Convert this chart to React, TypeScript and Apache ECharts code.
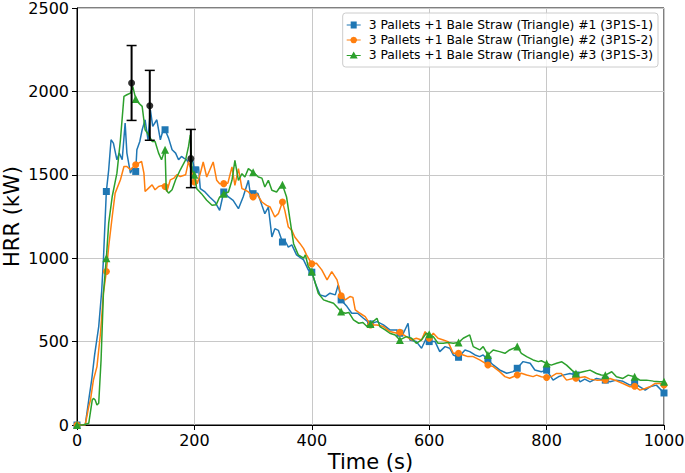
import React, { useEffect, useRef } from "react";
import * as echarts from "echarts";

const seriesNames = [
  "3 Pallets +1 Bale Straw (Triangle) #1 (3P1S-1)",
  "3 Pallets +1 Bale Straw (Triangle) #2 (3P1S-2)",
  "3 Pallets +1 Bale Straw (Triangle) #3 (3P1S-3)",
];
const colors = ["#1f77b4", "#ff7f0e", "#2ca02c"];

const xTicks = [0, 200, 400, 600, 800, 1000];
const yTicks = [0, 500, 1000, 1500, 2000, 2500];

// [time (s), HRR (kW)]
const test1: [number, number][] = [
  [0, 0], [10, 0], [14, 0], [20, 150], [25, 270], [30, 420], [37, 590], [42, 800], [45, 990], [50, 1400],
  [54, 1530], [58, 1710], [62, 1690], [68, 1590], [72, 1630], [77, 1590], [82, 1810], [85, 1630], [91, 1510], [95, 1540],
  [100, 1520], [102, 1650], [107, 1700], [111, 1770], [116, 1830], [121, 1710], [125, 1890], [129, 1790], [136, 1830], [142, 1710],
  [146, 1760], [150, 1770], [156, 1720], [162, 1650], [168, 1630], [173, 1590], [178, 1610], [182, 1600], [187, 1590], [193, 1550],
  [197, 1590], [200, 1530], [204, 1527], [207, 1550], [210, 1417], [218, 1397], [226, 1367], [235, 1337], [243, 1287], [250, 1397],
  [258, 1367], [266, 1347], [275, 1297], [283, 1367], [292, 1467], [296, 1367], [300, 1387], [308, 1390], [315, 1317], [320, 1267],
  [326, 1307], [332, 1127], [337, 1177], [343, 1167], [350, 1097], [355, 1100], [360, 1067], [366, 1080], [374, 1020], [386, 990],
  [394, 930], [400, 916], [406, 850], [414, 780], [423, 770], [431, 790], [440, 780], [445, 840], [450, 750], [460, 710],
  [468, 670], [478, 670], [488, 640], [500, 606], [511, 620], [522, 600], [533, 570], [545, 570], [550, 550], [556, 550],
  [564, 610], [567, 510], [578, 500], [587, 460], [595, 520], [600, 500], [610, 500], [618, 440], [627, 470], [635, 460],
  [641, 420], [650, 406], [661, 450], [669, 440], [678, 420], [686, 410], [692, 420], [700, 390], [709, 360], [720, 330],
  [732, 310], [743, 320], [750, 340], [760, 380], [772, 370], [780, 330], [791, 319], [800, 329], [811, 269], [820, 289],
  [828, 299], [840, 309], [850, 300], [857, 259], [865, 275], [874, 259], [885, 279], [900, 269], [908, 259], [919, 269],
  [930, 262], [942, 239], [950, 249], [959, 229], [968, 209], [976, 229], [987, 239], [1000, 192],
];

const test2: [number, number][] = [
  [0, 0], [10, 0], [14, 0], [20, 110], [23, 150], [28, 270], [34, 350], [40, 550], [45, 790], [50, 920],
  [54, 1070], [60, 1250], [65, 1390], [74, 1470], [80, 1550], [85, 1550], [91, 1530], [95, 1545], [100, 1560], [105, 1570],
  [110, 1580], [114, 1510], [116, 1400], [122, 1420], [128, 1440], [133, 1410], [139, 1430], [144, 1435], [150, 1430], [153, 1400],
  [159, 1470], [165, 1480], [170, 1500], [176, 1490], [185, 1500], [190, 1580], [196, 1510], [200, 1457], [205, 1447], [210, 1507],
  [215, 1577], [221, 1487], [226, 1527], [232, 1577], [238, 1467], [243, 1447], [250, 1447], [257, 1450], [264, 1547], [269, 1437],
  [275, 1537], [281, 1417], [286, 1410], [292, 1397], [300, 1367], [306, 1387], [315, 1337], [323, 1317], [329, 1307], [337, 1247],
  [343, 1267], [350, 1337], [354, 1287], [360, 1187], [366, 1167], [371, 1127], [380, 1087], [386, 1057], [391, 1020], [400, 966],
  [408, 970], [417, 930], [426, 870], [434, 920], [443, 870], [450, 775], [457, 750], [465, 770], [470, 765], [474, 690],
  [482, 670], [491, 650], [500, 600], [511, 600], [522, 590], [533, 560], [545, 550], [550, 556], [561, 530], [570, 510],
  [578, 520], [587, 510], [593, 560], [600, 520], [607, 550], [615, 520], [624, 510], [632, 500], [641, 430], [650, 430],
  [658, 420], [666, 410], [675, 410], [686, 390], [700, 360], [709, 350], [720, 320], [729, 290], [737, 280], [750, 300],
  [757, 310], [766, 300], [777, 290], [783, 299], [791, 289], [800, 285], [808, 290], [817, 309], [825, 309], [834, 269],
  [845, 279], [850, 280], [865, 289], [874, 275], [885, 269], [900, 270], [908, 279], [919, 265], [930, 249], [942, 229],
  [950, 232], [959, 209], [968, 219], [976, 229], [985, 249], [993, 249], [1000, 240],
];

const test3: [number, number][] = [
  [0, 0], [10, 0], [20, 10], [26, 150], [28, 160], [31, 150], [34, 120], [37, 130], [41, 390], [45, 790],
  [50, 1000], [54, 1210], [60, 1370], [68, 1510], [74, 1710], [80, 1970], [85, 1980], [91, 1990], [95, 2030], [100, 1955],
  [105, 1930], [111, 1910], [116, 1770], [122, 1740], [128, 1700], [133, 1700], [139, 1630], [144, 1590], [150, 1650], [152, 1410],
  [156, 1390], [162, 1410], [168, 1470], [176, 1530], [185, 1590], [190, 1670], [193, 1740], [196, 1530], [200, 1500], [204, 1417],
  [212, 1387], [221, 1347], [230, 1317], [237, 1320], [243, 1367], [250, 1387], [258, 1397], [264, 1467], [269, 1587], [275, 1467],
  [281, 1507], [286, 1487], [292, 1537], [300, 1515], [305, 1500], [309, 1487], [315, 1480], [320, 1427], [326, 1467], [332, 1407],
  [340, 1397], [346, 1427], [350, 1440], [357, 1367], [363, 1227], [369, 1087], [377, 1020], [386, 1000], [389, 1020], [394, 950],
  [400, 920], [406, 850], [411, 790], [420, 750], [428, 740], [437, 730], [450, 680], [457, 670], [463, 675], [471, 630],
  [480, 610], [487, 615], [494, 590], [500, 606], [511, 640], [516, 590], [525, 570], [533, 550], [542, 540], [550, 510],
  [561, 530], [570, 520], [578, 490], [587, 510], [595, 550], [600, 544], [607, 530], [615, 490], [624, 490], [632, 494],
  [641, 490], [650, 494], [658, 520], [669, 540], [675, 470], [686, 450], [692, 470], [700, 420], [709, 450], [720, 440],
  [729, 430], [737, 450], [750, 470], [757, 430], [766, 410], [777, 390], [786, 380], [791, 385], [800, 369], [808, 359],
  [817, 370], [826, 379], [834, 359], [843, 329], [850, 309], [862, 319], [874, 329], [885, 309], [893, 300], [900, 299],
  [911, 319], [919, 289], [930, 279], [939, 299], [950, 289], [959, 269], [970, 269], [982, 263], [993, 259], [1000, 259],
];

// [time, mean, lower, upper]
const errorBars: [number, number, number, number][] = [
  [93, 2050, 1826, 2275],
  [124, 1914, 1707, 2126],
  [194, 1597, 1423, 1772],
];

const markerSymbols = ["rect", "circle", "triangle"];
const legendIcons = [
  "path://M0,3.5 L4,3.5 L4,0.5 L10,0.5 L10,3.5 L14,3.5 L14,4.5 L10,4.5 L10,7.5 L4,7.5 L4,4.5 L0,4.5 Z",
  "path://M0,3.5 L3.6,3.5 A3.5,3.5 0 0 1 10.4,3.5 L14,3.5 L14,4.5 L10.4,4.5 A3.5,3.5 0 0 1 3.6,4.5 L0,4.5 Z",
  "path://M0,4 L5,4 L7,0.5 L9,4 L14,4 L14,5 L9.6,5 L11,7.5 L3,7.5 L4.4,5 L0,5 Z",
];

const FONT = "DejaVu Sans";

export default function App() {
  const ref = useRef<HTMLDivElement>(null);
  useEffect(() => {
    if (!ref.current) return;
    const chart = echarts.init(ref.current, null, { renderer: "svg" });
    const datasets = [test1, test2, test3];
    const lineSeries = datasets.map((d, i) => ({
      type: "line",
      name: seriesNames[i],
      data: d.map(([t, v]) =>
        t % 50 === 0 ? { value: [t, v] } : { value: [t, v], symbol: "none" }
      ),
      symbol: markerSymbols[i],
      symbolSize: i === 2 ? 8 : 7,
      showAllSymbol: true,
      lineStyle: { color: colors[i], width: 1.5 },
      itemStyle: { color: colors[i], borderWidth: 0 },
      z: 2 + i,
    }));
    chart.setOption({
      animation: false,
      backgroundColor: "#ffffff",
      grid: {
        left: 77,
        right: 21,
        top: 8,
        bottom: 48,
        containLabel: false,
        outerBoundsMode: "none",
        show: true,
        borderColor: "#000",
        borderWidth: 1,
        backgroundColor: "transparent",
      },
      legend: {
        orient: "vertical",
        right: 27,
        top: 13,
        data: seriesNames.map((n, i) => ({ name: n, icon: legendIcons[i], itemStyle: { color: colors[i] } })),
        itemWidth: 14,
        itemHeight: 8,
        itemGap: 3,
        padding: [6, 5, 6, 4],
        backgroundColor: "rgba(255,255,255,0.8)",
        borderColor: "#cccccc",
        borderWidth: 1,
        borderRadius: 3,
        textStyle: { fontFamily: FONT, fontSize: 12.3, color: "#000", padding: [0, 0, 0, 3] },
        selectedMode: false,
      },
      xAxis: {
        type: "value",
        min: xTicks[0],
        max: xTicks[xTicks.length - 1],
        interval: 200,
        name: "Time (s)",
        nameLocation: "middle",
        nameGap: 26,
        nameMoveOverlap: false,
        nameTextStyle: { fontFamily: FONT, fontSize: 21, color: "#000" },
        axisLine: { show: true, lineStyle: { color: "#000", width: 1 } },
        axisTick: { show: true, length: 5, lineStyle: { color: "#000" } },
        axisLabel: { fontFamily: FONT, fontSize: 16, color: "#000", margin: 7, formatter: (v: number) => String(v) },
        splitLine: { show: true, lineStyle: { color: "#c8c8c8", width: 1 } },
      },
      yAxis: {
        type: "value",
        min: yTicks[0],
        max: yTicks[yTicks.length - 1],
        interval: 500,
        name: "HRR (kW)",
        nameLocation: "middle",
        nameGap: 55,
        nameMoveOverlap: false,
        nameTextStyle: { fontFamily: FONT, fontSize: 21, color: "#000" },
        axisLine: { show: true, lineStyle: { color: "#000", width: 1 } },
        axisTick: { show: true, length: 5, lineStyle: { color: "#000" } },
        axisLabel: { fontFamily: FONT, fontSize: 16, color: "#000", margin: 8, formatter: (v: number) => String(v) },
        splitLine: { show: true, lineStyle: { color: "#c8c8c8", width: 1 } },
      },
      series: [
        ...lineSeries,
        {
          type: "custom",
          name: "errorbars",
          data: errorBars.map((e) => [e[0], e[2], e[3]]),
          z: 10,
          renderItem: (params: any, api: any) => {
            const x = api.value(0);
            const lo = api.coord([x, api.value(1)]);
            const hi = api.coord([x, api.value(2)]);
            const cap = 5;
            return {
              type: "group",
              children: [
                { type: "line", shape: { x1: lo[0], y1: lo[1], x2: hi[0], y2: hi[1] }, style: { stroke: "#000", lineWidth: 2 } },
                { type: "line", shape: { x1: lo[0] - cap, y1: lo[1], x2: lo[0] + cap, y2: lo[1] }, style: { stroke: "#000", lineWidth: 1.5 } },
                { type: "line", shape: { x1: hi[0] - cap, y1: hi[1], x2: hi[0] + cap, y2: hi[1] }, style: { stroke: "#000", lineWidth: 1.5 } },
              ],
            };
          },
        },
        {
          type: "scatter",
          name: "mean",
          data: errorBars.map((e) => [e[0], e[1]]),
          symbol: "circle",
          symbolSize: 7,
          itemStyle: { color: "#000" },
          z: 11,
        },
      ],
    });
    return () => chart.dispose();
  }, []);
  return (
    <div
      ref={ref}
      style={{ position: "fixed", left: 0, top: 0, width: 685, height: 473, background: "#fff" }}
    />
  );
}
